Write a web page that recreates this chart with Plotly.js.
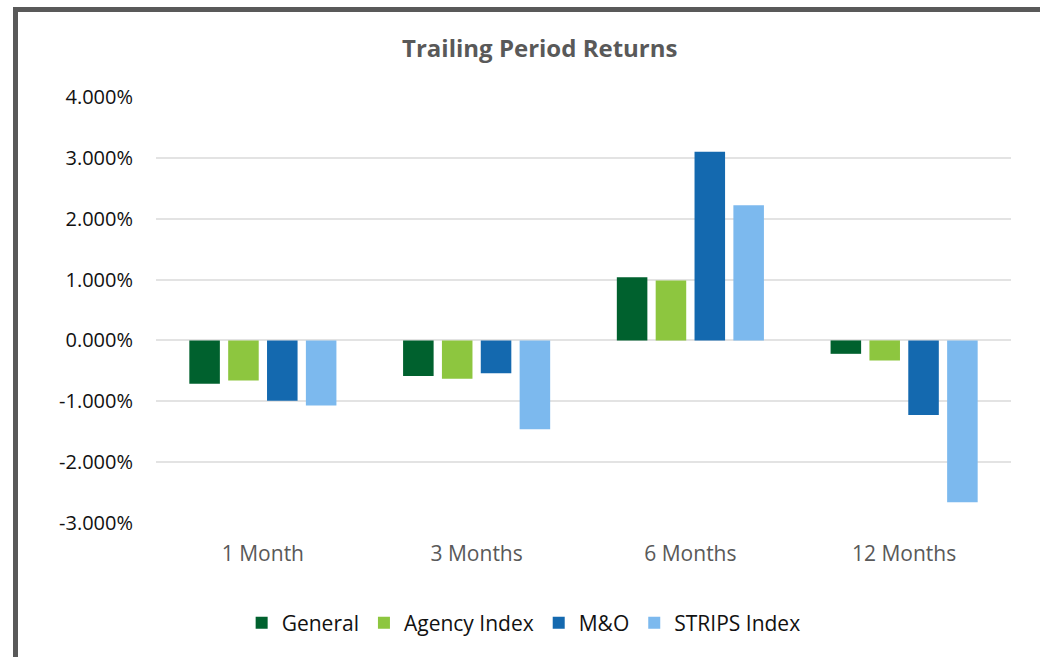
<!DOCTYPE html>
<html>
<head>
<meta charset="utf-8">
<script src="https://cdn.plot.ly/plotly-3.0.1.min.js"></script>
<style>
  html, body { margin: 0; padding: 0; background: #fff; }
  #wrap { position: relative; width: 1040px; height: 657px; overflow: hidden; }
  #chart { position: absolute; left: 0; top: 0; width: 1040px; height: 657px; }
  #frame { position: absolute; left: 13px; top: 7px; width: 1100px; height: 700px;
           border-left: 5px solid #595959; border-top: 5px solid #595959; pointer-events: none; }
</style>
</head>
<body>
<div id="wrap">
  <div id="chart"></div>
  <div id="frame"></div>
</div>
<script>
const categories = ["1 Month", "3 Months", "6 Months", "12 Months"];
const seriesNames = ["General", "Agency Index", "M&O", "STRIPS Index"];
const general = [-0.71, -0.585, 1.04, -0.22];
const agency = [-0.66, -0.63, 0.985, -0.33];
const mando = [-0.99, -0.54, 3.10, -1.225];
const strips = [-1.07, -1.46, 2.22, -2.66];
const tickVals = [-3, -2, -1, 0, 1, 2, 3, 4];
const tickLabels = ["-3.000%", "-2.000%", "-1.000%", "0.000%", "1.000%", "2.000%", "3.000%", "4.000%"];
const colors = ["#00612E", "#8DC63F", "#1469AF", "#7CB9EE"];
const values = [general, agency, mando, strips];

const traces = values.map((v, i) => ({
  type: "bar",
  name: seriesNames[i],
  x: categories,
  y: v,
  marker: { color: colors[i], line: { width: 0 } },
  hoverinfo: "x+y+name"
}));

const layout = {
  width: 1040,
  height: 657,
  margin: { l: 156, r: 29, t: 97, b: 134 },
  paper_bgcolor: "rgba(0,0,0,0)",
  plot_bgcolor: "#fff",
  font: { family: "Open Sans, Liberation Sans, sans-serif", size: 20, color: "#000" },
  title: {
    text: "<b>Trailing Period Returns</b>",
    font: { family: "Open Sans, sans-serif", size: 24, color: "#595959" },
    x: 0.519, xanchor: "center", xref: "container",
    y: 50, yref: "container", yanchor: "middle"
  },
  barmode: "group",
  bargap: 0.273,
  bargroupgap: 0.214,
  xaxis: {
    type: "category",
    showgrid: false,
    zeroline: false,
    showline: false,
    ticks: "",
    ticklabelstandoff: 16,
    tickfont: { size: 21, color: "#595959" }
  },
  yaxis: {
    range: [-3, 4],
    tickmode: "array",
    tickvals: tickVals,
    ticktext: tickLabels,
    showgrid: true,
    gridcolor: "#E3E3E3",
    gridwidth: 2,
    zeroline: true,
    zerolinecolor: "#E3E3E3",
    zerolinewidth: 2,
    ticks: "",
    ticklabelstandoff: 22,
    tickfont: { size: 20, color: "#111" }
  },
  showlegend: true,
  legend: {
    orientation: "h",
    x: 0.43, xanchor: "center",
    y: -0.235, yanchor: "middle",
    font: { size: 21, color: "#111" },
    itemwidth: 30,
    traceorder: "normal"
  }
};

Plotly.newPlot("chart", traces, layout, { displayModeBar: false, staticPlot: true });
</script>
</body>
</html>
